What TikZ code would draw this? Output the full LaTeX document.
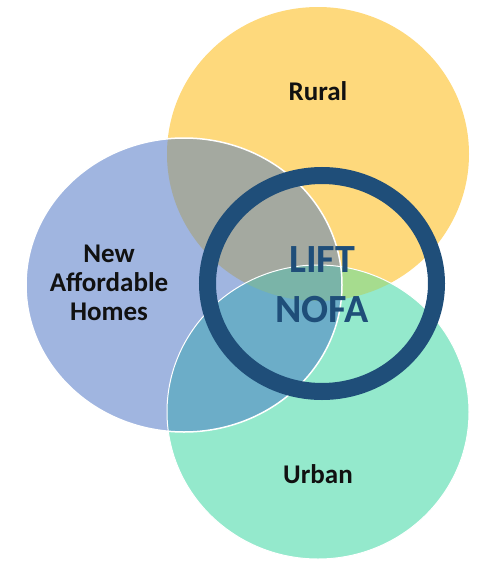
\documentclass[tikz,border=0pt]{standalone}
\usepackage{fontspec}
\setmainfont{Carlito}
\definecolor{yel}{RGB}{254,217,124}
\definecolor{blu}{RGB}{160,181,224}
\definecolor{grn}{RGB}{148,233,204}
\definecolor{by}{RGB}{164,169,160}
\definecolor{bg}{RGB}{108,173,200}
\definecolor{yg}{RGB}{166,220,142}
\definecolor{byg}{RGB}{122,180,168}
\definecolor{ring}{RGB}{31,78,121}
\definecolor{lbl}{RGB}{17,17,17}
\tikzset{
  label/.style={font=\bfseries\fontsize{27}{29}\selectfont, text=lbl, align=center, inner sep=0pt},
  biglabel/.style={font=\bfseries\fontsize{40}{50}\selectfont, text=ring, align=center, inner sep=0pt},
  rural/.style={},
}
\begin{document}
\begin{tikzpicture}[x=1pt,y=-1pt]
\useasboundingbox (0,0) rectangle (480,562);
\def\Rur{(318,154) ellipse [x radius=151pt, y radius=147pt]}
\def\Hom{(184,285) ellipse [x radius=158pt, y radius=147pt]}
\def\Urb{(318,412) ellipse [x radius=151pt, y radius=147pt]}
% base circles
\fill[yel] \Rur;
\fill[grn] \Urb;
\fill[blu] \Hom;
% pairwise overlaps
\begin{scope}\clip \Rur; \fill[yg] \Urb; \end{scope}
\begin{scope}\clip \Rur; \fill[by] \Hom; \end{scope}
\begin{scope}\clip \Urb; \fill[bg] \Hom; \end{scope}
\begin{scope}\clip \Rur; \clip \Urb; \fill[byg] \Hom; \end{scope}
% white outlines
\draw[white, line width=1pt] \Urb;
\draw[white, line width=1.5pt] \Hom;
% ring
\draw[ring, line width=17pt] (322,283.5) ellipse [x radius=114.5pt, y radius=108pt];
% labels
\node[label] (rural) at (318,91) {Rural};
\node[label] (urban) at (318,474) {Urban};
\node[label] (homes) at (109,283) {New\\Affordable\\Homes};
\node[biglabel] (lift) at (322,285) {LIFT\\NOFA};
\end{tikzpicture}
\end{document}
